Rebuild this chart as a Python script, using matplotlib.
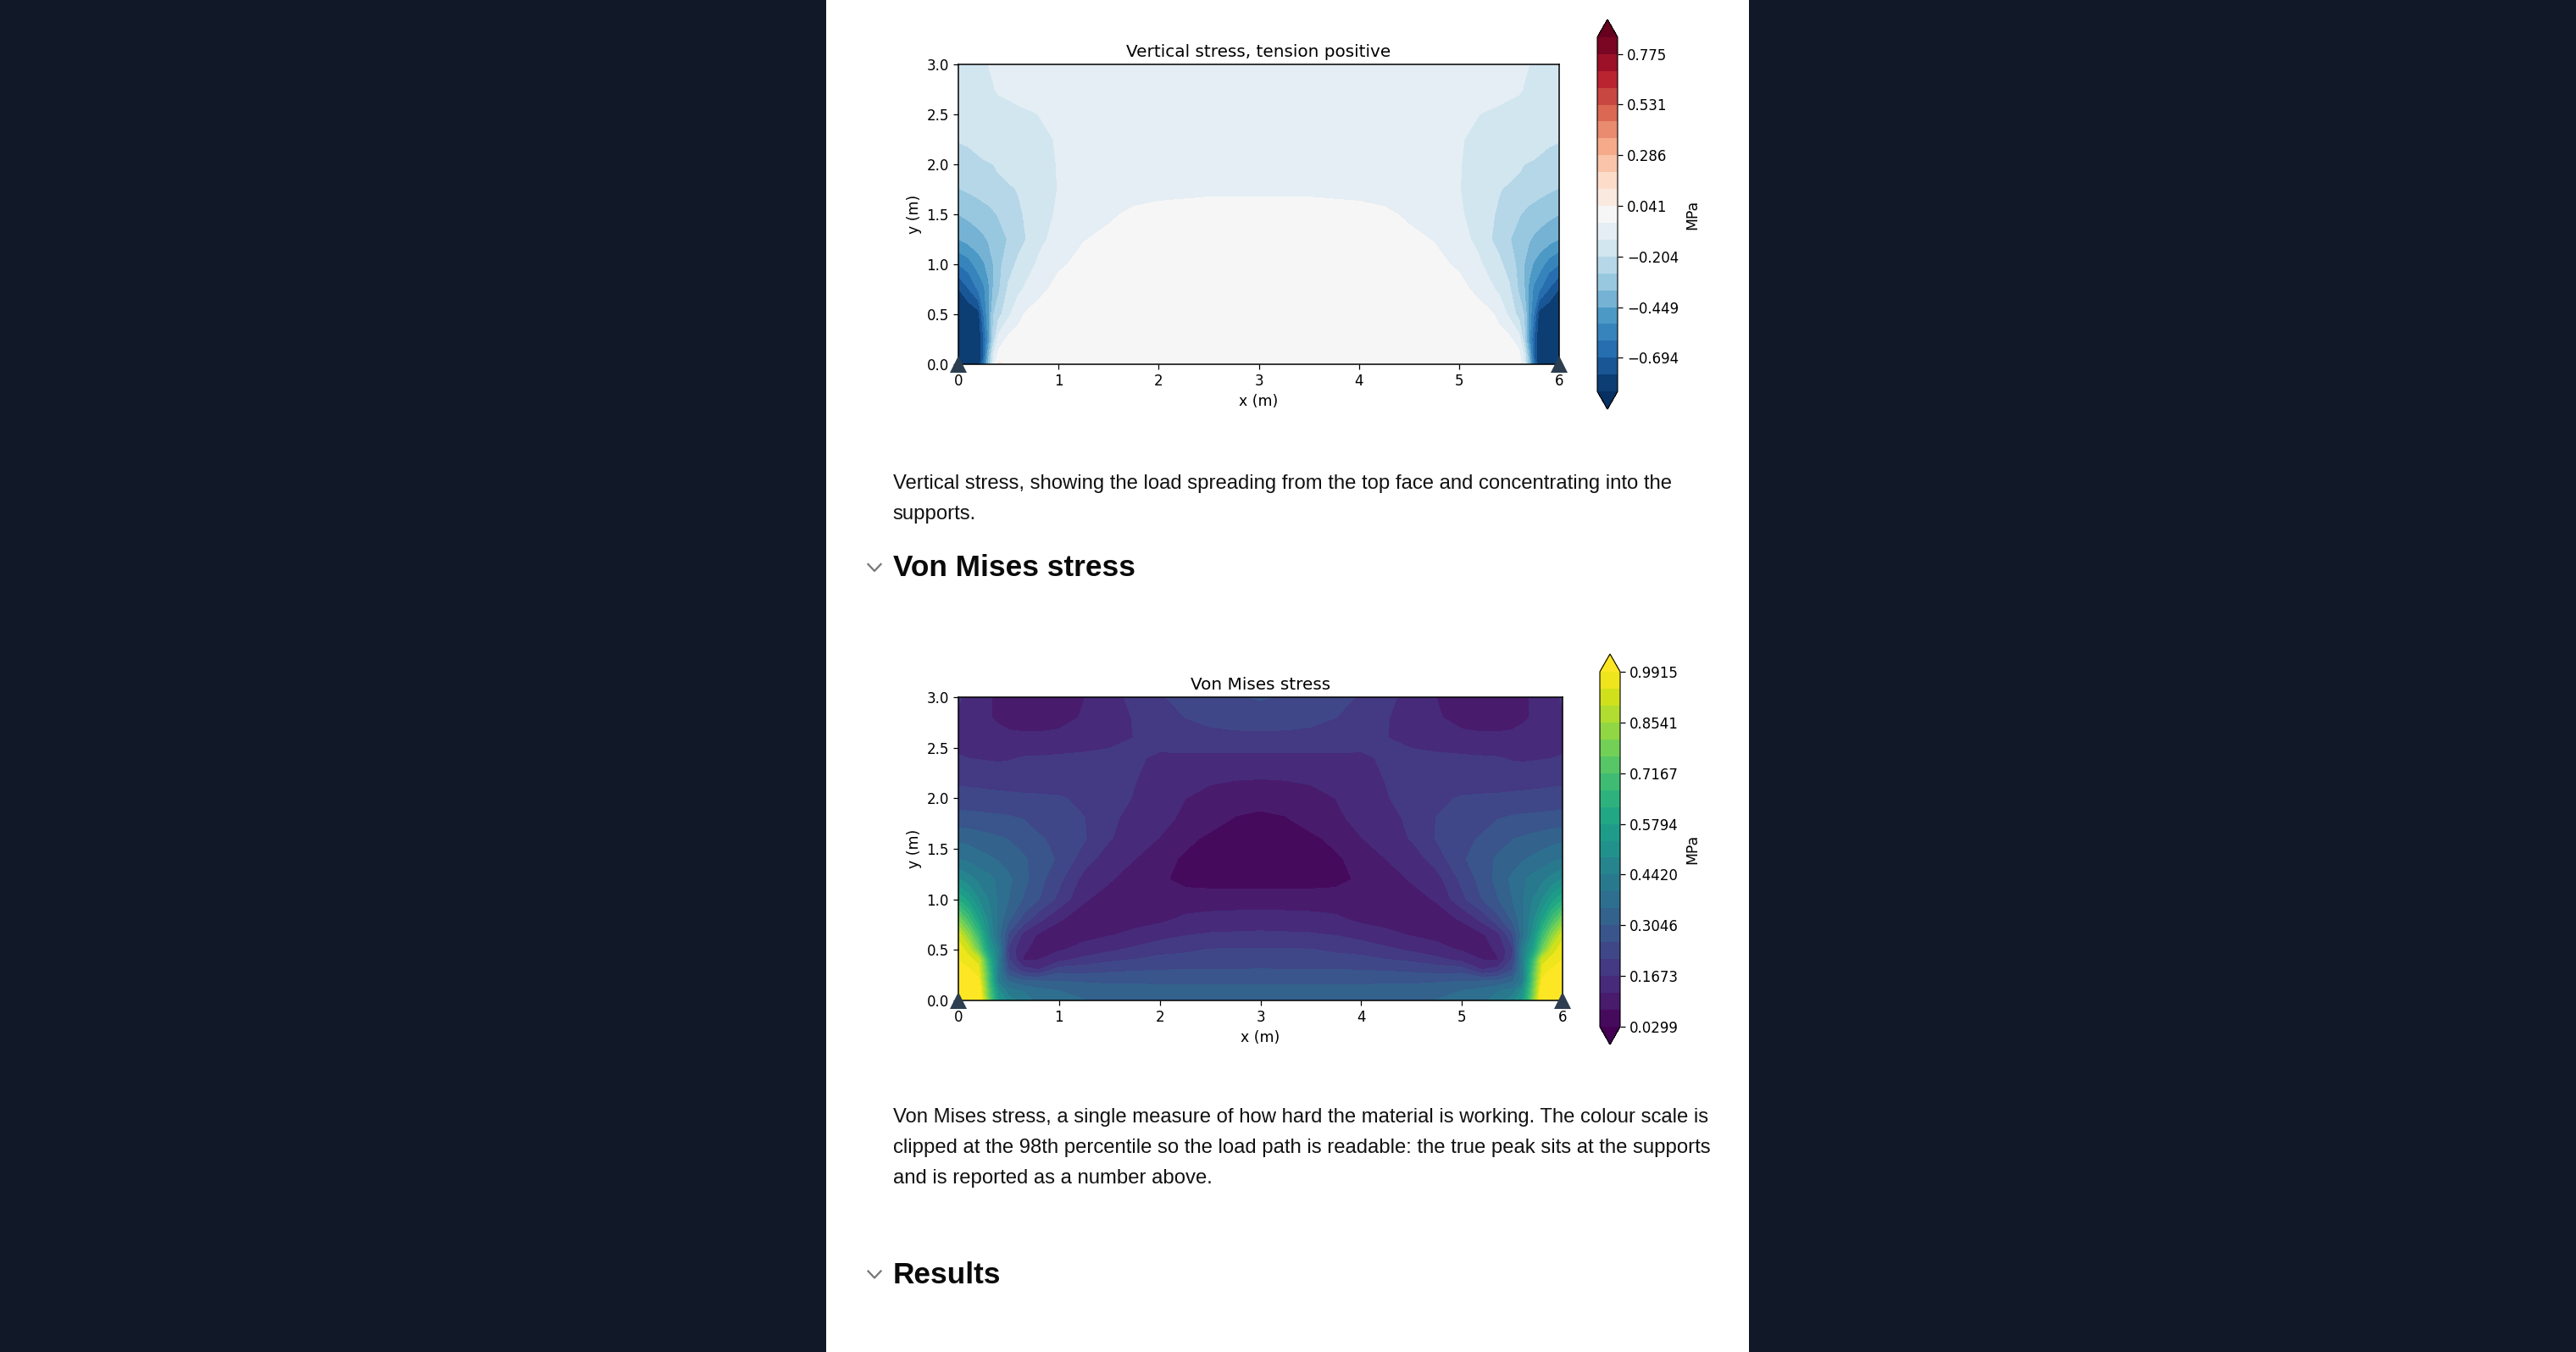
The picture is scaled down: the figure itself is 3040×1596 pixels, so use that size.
import matplotlib
matplotlib.use("Agg")
import matplotlib.pyplot as plt
import numpy as np
from matplotlib.patches import Rectangle

W, H = 3040, 1596
BG = "#111827"
SUPPORT = "#2c3e50"

# left half of each field, the right half is mirrored (x -> 6 - x)
syy_x = [0, .1, .2, .25, .3, .35, .4, .5, .6, .7, .8, 1, 1.25, 1.5, 1.75, 2, 2.5, 3]
syy_y = [0, .1, .25, .5, .75, 1, 1.25, 1.5, 1.75, 2, 2.25, 2.5, 2.75, 3]
syy_rows = [
    [-.85, -.85, -.85, -.65, -.35, -.10, -.01, -.01, -.01, -.01, -.01, -.01, -.01, -.01, -.01, -.01, -.01, -.01],
    [-.85, -.85, -.85, -.70, -.40, -.13, -.02, -.01, -.01, -.01, -.01, -.01, -.01, -.01, -.01, -.01, -.01, -.01],
    [-.85, -.85, -.85, -.70, -.50, -.25, -.09, -.02, -.015, -.01, -.01, -.01, -.01, -.01, -.01, -.01, -.01, -.01],
    [-.85, -.85, -.81, -.62, -.47, -.29, -.235, -.14, -.06, -.025, -.015, -.01, -.01, -.01, -.01, -.01, -.01, -.01],
    [-.78, -.70, -.60, -.55, -.47, -.36, -.30, -.19, -.14, -.10, -.06, -.02, -.012, -.01, -.01, -.01, -.01, -.01],
    [-.612, -.57, -.49, -.46, -.42, -.367, -.31, -.24, -.185, -.15, -.11, -.05, -.025, -.015, -.012, -.01, -.01, -.01],
    [-.449, -.42, -.395, -.38, -.36, -.34, -.32, -.28, -.235, -.195, -.145, -.09, -.043, -.03, -.02, -.02, -.015, -.015],
    [-.367, -.35, -.33, -.32, -.31, -.295, -.28, -.25, -.215, -.19, -.16, -.11, -.062, -.048, -.032, -.025, -.02, -.02],
    [-.29, -.275, -.26, -.25, -.245, -.235, -.23, -.215, -.20, -.175, -.155, -.12, -.095, -.075, -.06, -.055, -.05, -.05],
    [-.235, -.225, -.215, -.21, -.207, -.204, -.19, -.175, -.16, -.15, -.14, -.12, -.10, -.09, -.08, -.07, -.07, -.065],
    [-.20, -.195, -.185, -.18, -.175, -.17, -.165, -.155, -.145, -.14, -.135, -.118, -.10, -.09, -.085, -.08, -.075, -.075],
    [-.19, -.18, -.17, -.165, -.16, -.155, -.15, -.14, -.135, -.13, -.122, -.10, -.09, -.085, -.08, -.08, -.08, -.08],
    [-.17, -.165, -.15, -.145, -.135, -.125, -.115, -.11, -.10, -.09, -.085, -.08, -.08, -.08, -.08, -.08, -.08, -.08],
    [-.17, -.16, -.14, -.13, -.122, -.115, -.11, -.10, -.09, -.085, -.085, -.08, -.08, -.08, -.08, -.08, -.08, -.08],
]
# small tension spot on the bottom edge, left side only
syy_spot_col = 6
syy_spot_value = .08
syy_limit = 0.857
syy_ticks = [-.694, -.449, -.204, .041, .286, .531, .775]
syy_ticklabels = ["\u22120.694", "\u22120.449", "\u22120.204", "0.041", "0.286", "0.531", "0.775"]

vm_x = [0, .1, .2, .3, .4, .5, .65, .8, 1, 1.25, 1.5, 1.75, 2, 2.25, 2.5, 2.75, 3]
vm_y = [0, .1, .2, .3, .4, .5, .65, .8, 1, 1.2, 1.4, 1.6, 1.8, 2, 2.2, 2.4, 2.6, 2.8, 3]
vm_rows = [
    [1.05, 1.05, 1.05, .78, .54, .47, .42, .385, .365, .352, .34, .335, .33, .33, .33, .33, .33],
    [1.05, 1.05, 1.05, .75, .50, .41, .39, .365, .35, .335, .33, .327, .325, .325, .325, .325, .325],
    [1.05, 1.05, 1.0, .72, .42, .34, .30, .30, .30, .295, .29, .29, .29, .29, .29, .29, .29],
    [1.05, 1.0, .96, .70, .42, .26, .19, .17, .24, .24, .25, .255, .2589, .26, .26, .26, .262],
    [.99, .96, .93, .65, .42, .22, .118, .122, .155, .185, .205, .216, .228, .232, .236, .238, .239],
    [.97, .93, .78, .56, .43, .20, .125, .112, .118, .135, .16, .178, .197, .205, .216, .217, .218],
    [.93, .82, .68, .50, .37, .25, .15, .115, .10, .11, .118, .133, .15, .165, .172, .174, .176],
    [.80, .70, .58, .47, .38, .31, .24, .18, .125, .105, .095, .105, .112, .13, .137, .14, .142],
    [.62, .56, .49, .44, .39, .35, .30, .26, .20, .125, .108, .102, .10, .098, .098, .098, .098],
    [.49, .46, .43, .41, .385, .36, .318, .275, .225, .15, .125, .105, .085, .06, .055, .055, .055],
    [.396, .385, .37, .358, .345, .33, .31, .285, .252, .19, .14, .122, .095, .068, .055, .05, .05],
    [.34, .335, .325, .318, .31, .303, .285, .265, .245, .217, .171, .14, .12, .088, .066, .055, .05],
    [.275, .274, .272, .27, .268, .265, .257, .24, .225, .214, .178, .15, .135, .113, .095, .073, .068],
    [.235, .234, .232, .23, .228, .226, .222, .22, .217, .205, .182, .165, .145, .122, .105, .095, .088],
    [.198, .196, .193, .19, .188, .187, .187, .188, .188, .185, .178, .169, .155, .138, .13, .125, .123],
    [.17, .167, .165, .163, .162, .164, .17, .172, .175, .178, .178, .172, .162, .16, .158, .157, .157],
    [.155, .15, .145, .14, .135, .13, .128, .128, .13, .14, .155, .168, .18, .19, .195, .197, .197],
    [.16, .15, .14, .125, .115, .108, .105, .105, .11, .125, .15, .17, .19, .2131, .23, .24, .245],
    [.175, .15, .135, .125, .115, .10, .095, .095, .10, .121, .15, .18, .208, .23, .245, .255, .262],
]
vm_min, vm_max = 0.0299, 0.9915
vm_ticks = [.0299, .1673, .3046, .4420, .5794, .7167, .8541, .9915]
vm_ticklabels = ["0.0299", "0.1673", "0.3046", "0.4420", "0.5794", "0.7167", "0.8541", "0.9915"]

para_one = ["Vertical stress, showing the load spreading from the top face and concentrating into the",
            "supports."]
para_two = ["Von Mises stress, a single measure of how hard the material is working. The colour scale is",
            "clipped at the 98th percentile so the load path is readable: the true peak sits at the supports",
            "and is reported as a number above."]


def mirror(x, rows):
    x = np.array(x)
    z = np.array(rows)
    return np.concatenate([x, 6 - x[-2::-1]]), np.hstack([z, z[:, -2::-1]])


def box(left, top, right, bottom):
    return [left / W, 1 - bottom / H, (right - left) / W, (bottom - top) / H]


def panel(fig, ax_box, cb_box, x, y, z, levels, cmap, title, ticks, ticklabels):
    ax = fig.add_axes(box(*ax_box))
    cf = ax.contourf(x, y, z, levels=levels, cmap=cmap, extend="both")
    ax.set_xlim(0, 6)
    ax.set_ylim(0, 3)
    ax.set_xticks(range(7))
    ax.set_yticks(np.arange(0, 3.5, .5))
    ax.set_title(title, pad=3.4)
    ax.set_xlabel("x (m)", labelpad=2)
    ax.set_ylabel("y (m)", labelpad=2)
    ax.plot([0, 6], [0, 0], "^", color=SUPPORT, ms=7.2, mew=0, clip_on=False, zorder=5)
    cax = fig.add_axes(box(*cb_box))
    cb = fig.colorbar(cf, cax=cax)
    cb.set_ticks(ticks, labels=ticklabels)
    cb.set_label("MPa", labelpad=2.5)
    cb.outline.set_linewidth(.4)
    return ax


plt.rcParams.update({
    "font.family": "DejaVu Sans",
    "font.size": 6,
    "axes.titlesize": 7.2,
    "axes.labelsize": 6.2,
    "axes.linewidth": .55,
    "xtick.major.size": 2,
    "ytick.major.size": 2,
    "xtick.major.width": .45,
    "ytick.major.width": .45,
    "xtick.major.pad": 2,
    "ytick.major.pad": 2,
})

fig = plt.figure(figsize=(W / 200, H / 200), dpi=200, facecolor=BG)

page = fig.add_axes([0, 0, 1, 1])
page.set_xlim(0, W)
page.set_ylim(H, 0)
page.axis("off")
page.add_patch(Rectangle((975, 0), 1089, H, fc="white", ec="none"))

x1, z1 = mirror(syy_x, syy_rows)
z1[0, syy_spot_col] = syy_spot_value
levels1 = np.linspace(-syy_limit, syy_limit, 22)
panel(fig, (1131, 76, 1840, 430), (1885, 23, 1909, 483), x1, syy_y, z1, levels1, "RdBu_r",
      "Vertical stress, tension positive", syy_ticks, syy_ticklabels)

x2, z2 = mirror(vm_x, vm_rows)
levels2 = np.linspace(vm_min, vm_max, 22)
panel(fig, (1131, 823, 1844, 1181), (1888, 772, 1912, 1233), x2, vm_y, z2, levels2, "viridis",
      "Von Mises stress", vm_ticks, vm_ticklabels)

body = dict(family="Liberation Sans", fontsize=8.62, color="#111111", va="baseline")
for i, line in enumerate(para_one):
    page.text(1053.5, 577 + 36 * i, line, **body)
for i, line in enumerate(para_two):
    page.text(1053.5, 1325 + 36 * i, line, **body)

head = dict(family="Liberation Sans", fontsize=12.7, fontweight="bold", color="#0a0a0a", va="baseline")
for label, base in (("Von Mises stress", 680.5), ("Results", 1515)):
    page.text(1053.5, base, label, **head)
    page.plot([1024.5, 1032, 1039.5], [base - 14.5, base - 6.5, base - 14.5], color="#777777", lw=.8)

fig.savefig("out.png", dpi=200, facecolor=BG)
